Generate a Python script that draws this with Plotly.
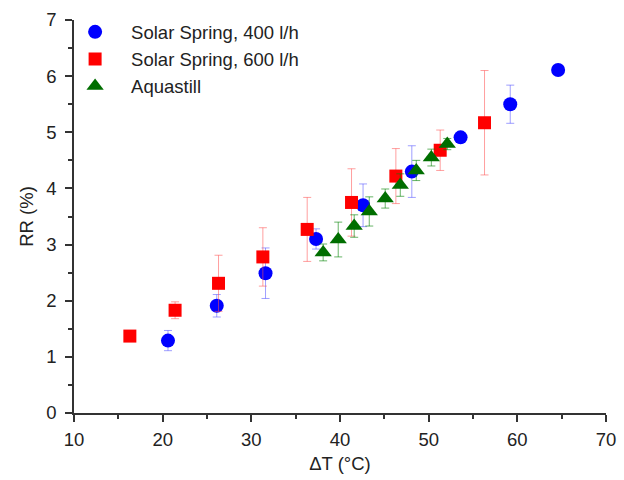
import plotly.graph_objects as go

# Solar Spring, 400 l/h
ss400_dt = [20.6, 26.1, 31.6, 37.3, 42.6, 48.1, 53.6, 59.2, 64.6]
ss400_rr = [1.29, 1.91, 2.49, 3.10, 3.70, 4.30, 4.91, 5.50, 6.11]
ss400_err = [0.18, 0.20, 0.45, 0.18, 0.38, 0.46, 0.0, 0.34, 0.0]

# Solar Spring, 600 l/h
ss600_dt = [16.3, 21.4, 26.3, 31.3, 36.3, 41.3, 46.3, 51.3, 56.3]
ss600_rr = [1.37, 1.83, 2.31, 2.78, 3.27, 3.75, 4.22, 4.68, 5.17]
ss600_err = [0.0, 0.15, 0.50, 0.52, 0.57, 0.60, 0.49, 0.36, 0.93]

# Aquastill
aq_dt = [38.1, 39.8, 41.6, 43.3, 45.1, 46.8, 48.6, 50.3, 52.1]
aq_rr = [2.86, 3.09, 3.33, 3.59, 3.82, 4.06, 4.32, 4.55, 4.79]
aq_err = [0.15, 0.31, 0.20, 0.26, 0.17, 0.20, 0.18, 0.15, 0.10]

font_family = "Liberation Sans, Arial, sans-serif"
fsize = 18.5

fig = go.Figure()
fig.add_trace(go.Scatter(
    x=ss400_dt, y=ss400_rr, mode="markers", name="Solar Spring, 400 l/h",
    marker=dict(symbol="circle", size=14, color="#0000FF"),
    error_y=dict(type="data", array=ss400_err, visible=True,
                 color="rgba(80,80,255,0.55)", thickness=1, width=4),
))
fig.add_trace(go.Scatter(
    x=ss600_dt, y=ss600_rr, mode="markers", name="Solar Spring, 600 l/h",
    marker=dict(symbol="square", size=13, color="#FF0000"),
    error_y=dict(type="data", array=ss600_err, visible=True,
                 color="rgba(255,80,80,0.55)", thickness=1, width=4),
))
fig.add_trace(go.Scatter(
    x=aq_dt, y=aq_rr, mode="markers", name="Aquastill",
    marker=dict(symbol="triangle-up", size=15, color="#006E00"),
    error_y=dict(type="data", array=aq_err, visible=True,
                 color="rgba(0,130,0,0.6)", thickness=1, width=4),
))

axis_common = dict(
    showgrid=False, zeroline=False, showline=True, linecolor="#333333",
    linewidth=1.5, ticks="outside", ticklen=7, tickwidth=1.5,
    tickcolor="#333333", tickfont=dict(family=font_family, size=fsize, color="#222222"),
    mirror=False, automargin=False,
)

fig.update_xaxes(
    range=[10, 70], dtick=10, tick0=10,
    minor=dict(ticks="outside", ticklen=4, dtick=5, tickcolor="#333333", tickwidth=1.5),
    title=dict(text="ΔT (°C)", font=dict(family=font_family, size=fsize, color="#222222"),
               standoff=8),
    ticklabelstandoff=2,
    **axis_common,
)
fig.update_yaxes(
    range=[0, 7], dtick=1,
    minor=dict(ticks="outside", ticklen=4, dtick=0.5, tickcolor="#333333", tickwidth=1.5),
    title=dict(text="RR (%)", font=dict(family=font_family, size=fsize, color="#222222"),
               standoff=8),
    ticklabelstandoff=5,
    **axis_common,
)

fig.update_layout(
    width=624, height=480,
    margin=dict(l=74, r=18, t=20, b=67),
    plot_bgcolor="white", paper_bgcolor="white",
    font=dict(family=font_family),
    legend=dict(x=-0.028, y=1.017, xanchor="left", yanchor="top",
                font=dict(family=font_family, size=fsize, color="#222222"),
                bgcolor="rgba(0,0,0,0)", tracegroupgap=0, itemsizing="trace",
                itemwidth=62),
    showlegend=True,
)

fig.write_html("out.html")
